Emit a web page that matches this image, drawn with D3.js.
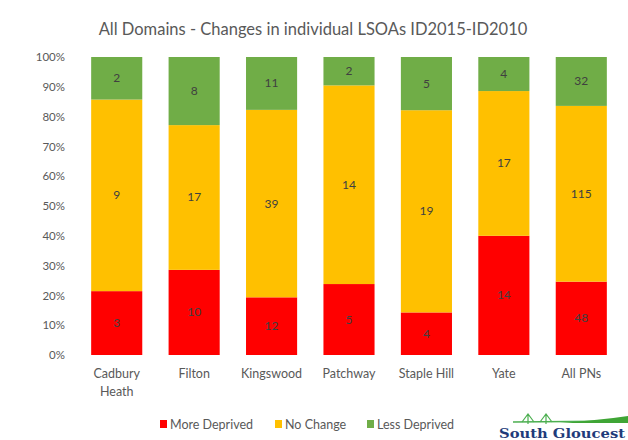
<!DOCTYPE html>
<html><head><meta charset="utf-8">
<script src="https://cdn.jsdelivr.net/npm/d3@7"></script>
<style>body{margin:0;background:#fff;overflow:hidden}svg{display:block}</style>
</head><body>
<svg id="c" width="628" height="440"></svg>
<script>
const categories = ["Cadbury Heath","Filton","Kingswood","Patchway","Staple Hill","Yate","All PNs"];
const moreDeprived = [3,10,12,5,4,14,48];
const noChange = [9,17,39,14,19,17,115];
const lessDeprived = [2,8,11,2,5,4,32];
const yTicks = [0,0.1,0.2,0.3,0.4,0.5,0.6,0.7,0.8,0.9,1];
const seriesNames = ["More Deprived","No Change","Less Deprived"];
const colors = ["#FF0000","#FFC000","#70AD47"];

const svg = d3.select("#c");
const font = "Lato, 'Open Sans', sans-serif";
const txt = "#595959";
const x = d3.scaleBand().domain(categories).range([78,620]).paddingInner(0.34).paddingOuter(0.17);
const y = d3.scaleLinear().domain([0,1]).range([355,57]);

const rows = categories.map((c,i)=>({cat:c, "More Deprived":moreDeprived[i], "No Change":noChange[i], "Less Deprived":lessDeprived[i]}));
rows.forEach(r=>{r.total = r["More Deprived"]+r["No Change"]+r["Less Deprived"];});
const stack = d3.stack().keys(seriesNames).value((d,k)=>d[k]/d.total);
const layers = stack(rows);

svg.append("text").attr("x",313).attr("y",35).attr("text-anchor","middle")
  .attr("font-family",font).attr("font-size",16.5).attr("fill",txt)
  .text("All Domains - Changes in individual LSOAs ID2015-ID2010");

const yAxis = svg.append("g").attr("transform","translate(70,0)")
  .call(d3.axisLeft(y).tickValues(yTicks).tickFormat(d3.format(".0%")).tickSize(0).tickPadding(5));
yAxis.select(".domain").remove();
yAxis.selectAll("text").attr("font-family",font).attr("font-size",11.5).attr("fill",txt);

layers.forEach((layer,li)=>{
  const g = svg.append("g");
  g.selectAll("rect").data(layer).join("rect")
    .attr("x",d=>x(d.data.cat)).attr("width",x.bandwidth())
    .attr("y",d=>y(d[1])).attr("height",d=>y(d[0])-y(d[1]))
    .attr("fill",colors[li]);
  g.selectAll("text").data(layer).join("text")
    .attr("x",d=>x(d.data.cat)+x.bandwidth()/2)
    .attr("y",d=>y((d[0]+d[1])/2)+4)
    .attr("text-anchor","middle").attr("font-family",font).attr("font-size",12)
    .attr("fill","#404040")
    .text(d=>d.data[layer.key]);
});

const xAxis = svg.append("g").attr("transform","translate(0,355)")
  .call(d3.axisBottom(x).tickSize(0).tickPadding(14));
xAxis.select(".domain").remove();
xAxis.selectAll("text").attr("font-family",font).attr("font-size",12.5).attr("fill",txt)
  .each(function(d){
    const t = d3.select(this);
    if(d==="Cadbury Heath"){
      t.text(null);
      t.append("tspan").attr("x",0).text("Cadbury");
      t.append("tspan").attr("x",0).attr("dy","1.45em").text("Heath");
    }
  });

const legendX = [160,275,367];
const leg = svg.append("g");
seriesNames.forEach((n,i)=>{
  leg.append("rect").attr("x",legendX[i]).attr("y",420).attr("width",7).attr("height",8).attr("fill",colors[i]);
  leg.append("text").attr("x",legendX[i]+10).attr("y",428.5).attr("font-family",font).attr("font-size",12.5).attr("fill",txt).text(n);
});

// logo
const logo = svg.append("g");
logo.append("path").attr("d","M513,422 L628,421").attr("stroke","#4CAF50").attr("stroke-width",1.5).attr("fill","none");
logo.append("path").attr("d","M560,423 Q600,420 628,416 L628,423 Z").attr("fill","#3FA535");
logo.append("path").attr("d","M522,422 L528,414 L534,422 M540,422 L546,414 L552,422 M528,414 L528,424 M546,414 L546,424").attr("stroke","#4CAF50").attr("stroke-width",1.2).attr("fill","none");
logo.append("text").attr("x",499).attr("y",438).attr("font-family","'DejaVu Serif', serif").attr("font-weight","bold").attr("font-size",13)
  .attr("textLength",126).attr("lengthAdjust","spacingAndGlyphs").attr("fill","#1F3B7A").text("South Gloucest");
</script>
</body></html>
